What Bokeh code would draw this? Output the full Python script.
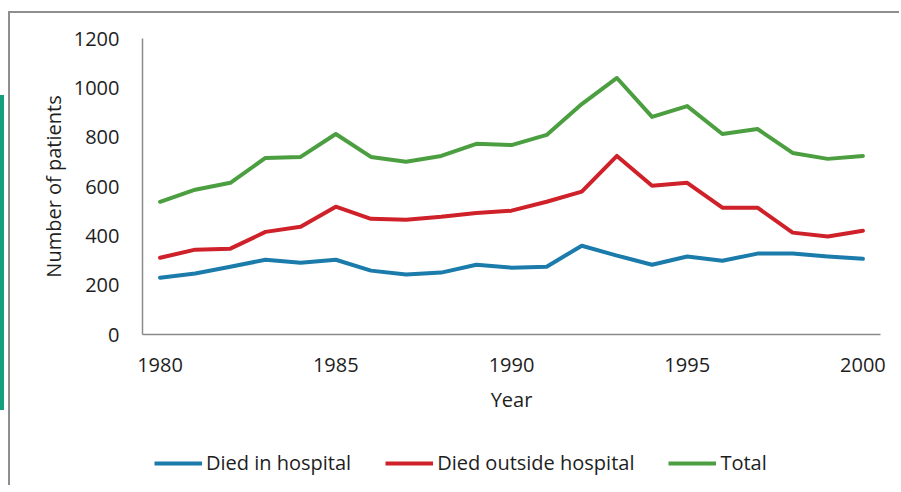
from bokeh.plotting import figure
from bokeh.models import Range1d, FixedTicker, Legend, LegendItem, Div, Spacer
from bokeh.layouts import column, row
from bokeh.embed import file_html
from bokeh.resources import INLINE

years = list(range(1980, 2001))
died_in_hospital = [230, 247, 275, 303, 291, 303, 259, 243, 251, 283, 271, 275, 360, 320, 283, 316, 299, 328, 328, 316, 307]
died_outside_hospital = [311, 344, 348, 416, 437, 518, 469, 465, 477, 493, 502, 538, 579, 724, 603, 615, 514, 514, 413, 397, 421]
total = [538, 587, 615, 716, 720, 813, 720, 700, 724, 773, 768, 809, 934, 1040, 882, 926, 813, 833, 736, 712, 724]
x_ticks = [1980, 1985, 1990, 1995, 2000]
y_ticks = [0, 200, 400, 600, 800, 1000, 1200]

FONT = "Open Sans"
TXT = "#1e1e1e"
COLORS = ["#1b7bab", "#cf2129", "#4c9f40"]
LABELS = ["Died in hospital", "Died outside hospital", "Total"]
SERIES = [died_in_hospital, died_outside_hospital, total]

W = 889
p = figure(width=W, height=402, output_backend="svg", toolbar_location=None,
           x_range=Range1d(1979.5, 2000.5), y_range=Range1d(0, 1200),
           min_border_left=132, min_border_right=19, min_border_top=25, min_border_bottom=80,
           background_fill_color="white", border_fill_color="white")
p.outline_line_color = None
p.grid.visible = False

for ax in (p.xaxis[0], p.yaxis[0]):
    ax.axis_line_color = "#8a8a8a"
    ax.axis_line_width = 1.5
    ax.major_tick_line_color = None
    ax.minor_tick_line_color = None
    ax.major_label_text_font = FONT
    ax.major_label_text_font_size = "20px"
    ax.major_label_text_color = TXT
    ax.axis_label_text_font = FONT
    ax.axis_label_text_font_size = "20px"
    ax.axis_label_text_font_style = "normal"
    ax.axis_label_text_color = TXT

p.xaxis.ticker = FixedTicker(ticks=x_ticks)
p.yaxis.ticker = FixedTicker(ticks=y_ticks)
p.xaxis.axis_label = "Year"
p.yaxis.axis_label = "Number of patients"
p.xaxis.major_label_standoff = 17
p.yaxis.major_label_standoff = 17
p.xaxis.axis_label_standoff = 11
p.yaxis.axis_label_standoff = 4

for ys, c in zip(SERIES, COLORS):
    p.line(years, ys, line_color=c, line_width=4, line_join="round", line_cap="round")

# legend strip: same series drawn outside its visible range, legend inside its frame
pl = figure(width=W, height=70, output_backend="svg", toolbar_location=None,
            x_range=Range1d(1979.5, 2000.5), y_range=Range1d(5000, 5001),
            x_axis_location=None, y_axis_location=None,
            min_border=0, background_fill_color="white", border_fill_color="white")
pl.outline_line_color = None
pl.grid.visible = False
items = []
for ys, c, lab in zip(SERIES, COLORS, LABELS):
    r = pl.line(years, ys, line_color=c, line_width=4)
    items.append(LegendItem(label=lab, renderers=[r]))

legend = Legend(items=items, orientation="horizontal", location=(12, 9))
legend.glyph_width = 48
legend.label_standoff = 4
legend.spacing = 34
legend.padding = 5
legend.margin = 0
legend.border_line_color = None
legend.background_fill_alpha = 0
legend.label_text_font = FONT
legend.label_text_font_size = "20px"
legend.label_text_color = TXT
pl.add_layout(legend, "center")

chart = column(p, pl, spacing=0,
               styles={"margin-top": "11px", "border-left": "2px solid #8e8e8e",
                       "border-top": "2px solid #8e8e8e"})
teal = Div(text="", width=4, height=315, margin=(95, 0, 0, 0),
           styles={"background-color": "#12a07f"})
layout = row(teal, Spacer(width=4), chart, spacing=0)

open("out.html", "w").write(file_html(layout, INLINE))
